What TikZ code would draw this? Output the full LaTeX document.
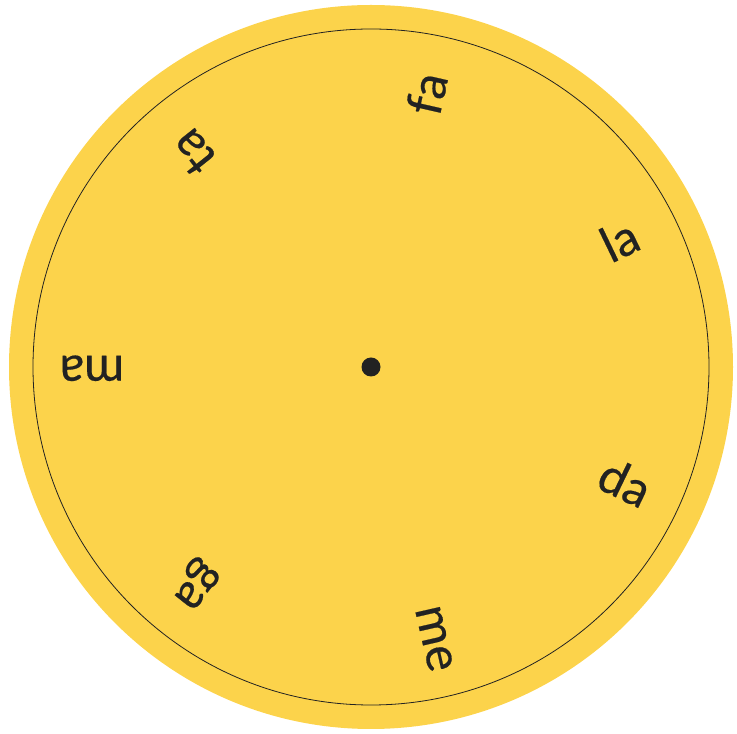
\documentclass[tikz,border=0pt]{standalone}
\usepackage{fontspec}
\newfontfamily\sylfont{Lato}[FakeBold=0.4]
\usetikzlibrary{positioning, calc}
\definecolor{wheelyellow}{HTML}{FCD34B}
\definecolor{inkdark}{HTML}{222222}

\begin{document}
\begin{tikzpicture}[
  x=1pt, y=1pt,
  every node/.style={font=\sylfont\fontsize{49}{52}\selectfont, text=inkdark},
  syl/.style={anchor=mid, inner sep=0pt},
  rim/.style={draw=inkdark, line width=0.8pt}
]
  \useasboundingbox (0,0) rectangle (737,734);
  \coordinate (C) at (371,367);
  \fill[wheelyellow] (C) circle[radius=362];
  \draw[rim] (C) circle[radius=338];
  \node[circle, fill=inkdark, inner sep=0pt, minimum size=19pt] (Hub) at (C) {};
  % syllables, reading outward
  \foreach \txt [count=\i from 0, evaluate=\i as \a using 180+\i*360/7] in {ma,ga,me,da,la,fa,ta}
    \node[syl, rotate=\a] (S\i) at ($(C)+(\a:279)+(\a-90:9)$) {\txt};
\end{tikzpicture}
\end{document}
